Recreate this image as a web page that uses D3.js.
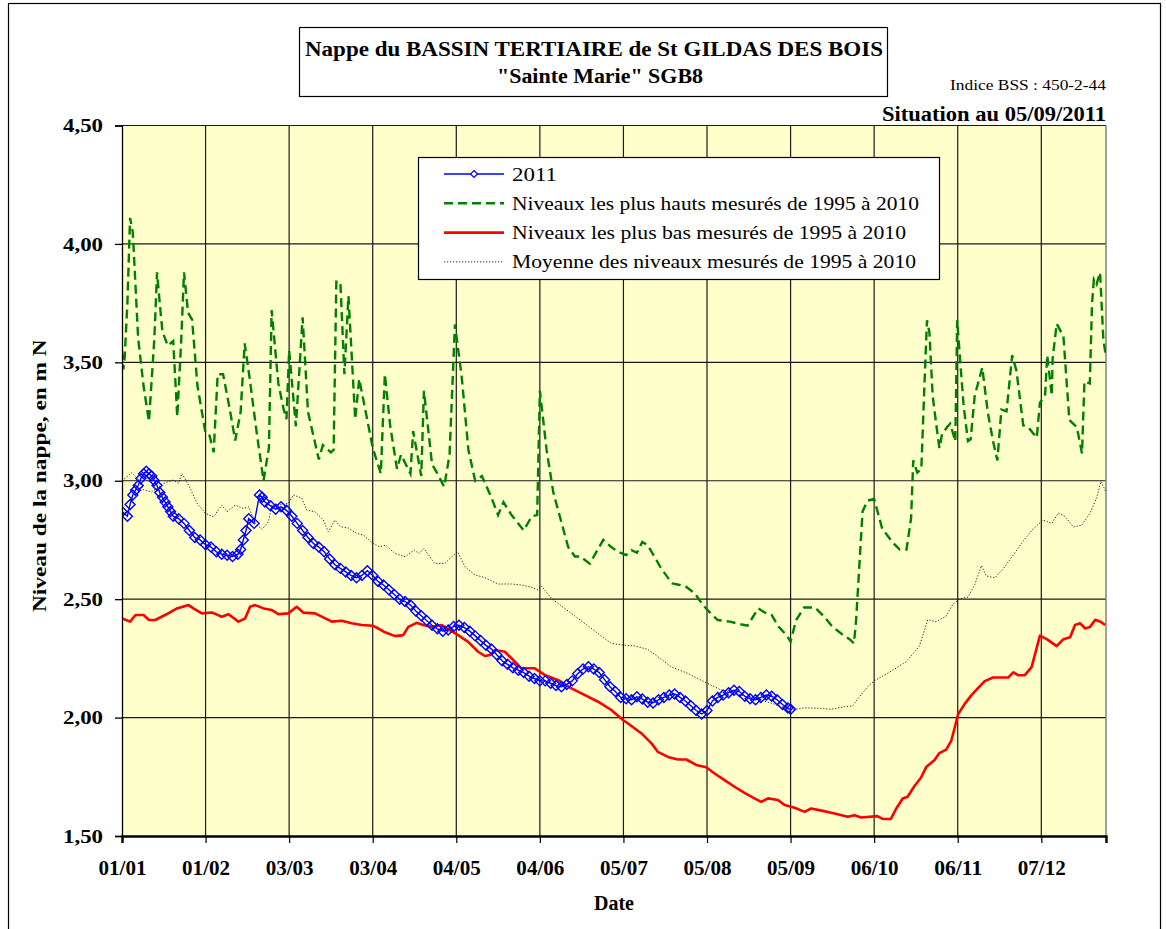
<!DOCTYPE html>
<html>
<head>
<meta charset="utf-8">
<script src="https://cdn.jsdelivr.net/npm/d3@7"></script>
<style>
  body { margin: 0; background: #fff; }
  svg text { font-family: "Liberation Serif", "Times New Roman", serif; fill: #000; }
</style>
</head>
<body>
<svg id="chart" width="1166" height="929"></svg>
<script>
// tick labels of the date axis (dd/mm), the axis runs over a 366 day calendar
const dateTicks = ['01/01', '01/02', '03/03', '03/04', '04/05', '04/06', '05/07', '05/08', '05/09', '06/10', '06/11', '07/12']
const levelTicks = [1.5, 2, 2.5, 3, 3.5, 4, 4.5]

const seriesNames = [
  '2011',
  'Niveaux les plus hauts mesurés de 1995 à 2010',
  'Niveaux les plus bas mesurés de 1995 à 2010',
  'Moyenne des niveaux mesurés de 1995 à 2010',
]

// [day of year, level in m]
const levels2011 = [
  [0, 2.87], [2, 2.85], [3, 2.90], [4, 2.94], [5, 2.96], [6, 2.98], [7, 3.01], [8, 3.03], [9, 3.04],
  [10, 3.03], [11, 3.02], [12, 3.00], [13, 2.98], [14, 2.95], [15, 2.93], [16, 2.91], [17, 2.89],
  [18, 2.87], [19, 2.85], [21, 2.84], [23, 2.82], [25, 2.79], [27, 2.76], [29, 2.75], [31, 2.73],
  [33, 2.72], [35, 2.70], [37, 2.69], [39, 2.685], [41, 2.68], [43, 2.69], [44, 2.71], [45, 2.75],
  [46, 2.79], [47, 2.84], [49, 2.82], [51, 2.94], [52, 2.93], [53, 2.91], [55, 2.895], [57, 2.88],
  [59, 2.89], [61, 2.875], [63, 2.85], [65, 2.82], [67, 2.79], [69, 2.76], [71, 2.735], [73, 2.72],
  [75, 2.70], [77, 2.67], [79, 2.645], [81, 2.63], [83, 2.615], [85, 2.60], [87, 2.59], [89, 2.60],
  [91, 2.62], [93, 2.60], [95, 2.575], [97, 2.56], [99, 2.54], [101, 2.52], [103, 2.50], [105, 2.49],
  [107, 2.475], [109, 2.45], [111, 2.43], [113, 2.41], [115, 2.39], [117, 2.375], [119, 2.365],
  [121, 2.37], [123, 2.385], [125, 2.39], [127, 2.38], [129, 2.365], [131, 2.345], [133, 2.325],
  [135, 2.305], [137, 2.29], [139, 2.265], [141, 2.24], [143, 2.225], [145, 2.21], [147, 2.20],
  [149, 2.19], [151, 2.175], [153, 2.165], [155, 2.155], [157, 2.155], [159, 2.145], [161, 2.135],
  [163, 2.13], [165, 2.14], [167, 2.155], [169, 2.185], [171, 2.205], [173, 2.215], [175, 2.205],
  [177, 2.19], [179, 2.16], [181, 2.13], [183, 2.11], [185, 2.085], [187, 2.08], [189, 2.075],
  [191, 2.088], [193, 2.078], [195, 2.065], [197, 2.062], [199, 2.075], [201, 2.085], [203, 2.095],
  [205, 2.10], [207, 2.085], [209, 2.07], [211, 2.05], [213, 2.03], [215, 2.015], [217, 2.03],
  [219, 2.07], [221, 2.085], [223, 2.095], [225, 2.105], [227, 2.115], [229, 2.11], [231, 2.09],
  [233, 2.08], [235, 2.075], [237, 2.085], [239, 2.095], [241, 2.09], [243, 2.075], [245, 2.055],
  [247, 2.04], [248, 2.035],
]

const highest = [
  [0, 3.55], [0.5, 3.47], [1, 3.52], [2, 3.75], [3, 4.11], [4, 4.05], [6, 3.6], [8, 3.4], [10, 3.25],
  [12, 3.6], [13, 3.88], [14, 3.75], [15, 3.63], [17, 3.57], [19, 3.59], [20.5, 3.27], [22, 3.6],
  [23, 3.88], [24.5, 3.71], [26, 3.68], [28, 3.4], [31, 3.2], [32.5, 3.19], [34, 3.12], [35.5, 3.45],
  [37.5, 3.45], [40, 3.3], [42, 3.17], [44, 3.29], [45.5, 3.58], [47.5, 3.42], [50, 3.2], [52.5, 3.0],
  [54.5, 3.14], [55.5, 3.72], [58, 3.41], [60, 3.3], [61, 3.26], [62, 3.55], [64.5, 3.23], [67, 3.69],
  [69, 3.29], [73, 3.09], [74.5, 3.15], [77.5, 3.12], [78.5, 3.13], [79.5, 3.84], [81, 3.84],
  [82.5, 3.45], [84, 3.78], [86.5, 3.26], [88, 3.43], [93, 3.14], [96, 3.03], [97.5, 3.45],
  [99.5, 3.23], [102, 3.05], [103.5, 3.11], [107, 3.03], [108, 3.21], [111, 3.02], [112, 3.38],
  [115, 3.07], [117, 3.03], [119.5, 2.975], [121.5, 3.11], [123.5, 3.66], [126, 3.44], [128.5, 3.13],
  [131, 3.0], [133.5, 3.02], [137, 2.93], [139.5, 2.855], [141.5, 2.91], [144.5, 2.855], [149, 2.79],
  [152, 2.85], [154, 2.855], [155, 3.38], [157.5, 3.13], [160, 2.95], [165.5, 2.72], [168, 2.68],
  [170, 2.68], [173.5, 2.65], [178.5, 2.75], [181.5, 2.72], [184, 2.70], [187, 2.686], [189, 2.707],
  [191, 2.696], [193, 2.742], [195, 2.728], [200, 2.63], [204, 2.567], [206, 2.562], [209, 2.555],
  [212.5, 2.524], [215.5, 2.475], [219, 2.433], [221, 2.412], [225.5, 2.405], [229.5, 2.394],
  [232, 2.388], [236, 2.461], [238.5, 2.443], [241, 2.433], [243.5, 2.384], [246.5, 2.348],
  [248, 2.32], [250, 2.41], [253, 2.465], [257, 2.465], [260.5, 2.426], [263.5, 2.384], [267, 2.353],
  [270, 2.33], [271.5, 2.313], [272.3, 2.41], [274.7, 2.87], [276.5, 2.916], [279, 2.923],
  [282, 2.797], [286, 2.738], [288.5, 2.709], [291, 2.709], [292.7, 2.842], [293.5, 3.086],
  [295, 3.034], [296.5, 3.049], [297.6, 3.389], [298.6, 3.678], [299.5, 3.626], [300.7, 3.359],
  [302, 3.241], [303.2, 3.138], [304.2, 3.197], [306, 3.226], [307.2, 3.241], [309.1, 3.167],
  [309.8, 3.678], [311.1, 3.478], [312.2, 3.315], [313.8, 3.167], [314.8, 3.175], [316.3, 3.359],
  [319.1, 3.478], [321.2, 3.285], [323.1, 3.167], [324.7, 3.086], [326.2, 3.30], [328.1, 3.293],
  [330.2, 3.53], [331.8, 3.463], [334.3, 3.234], [336.2, 3.226], [339.3, 3.182], [340.5, 3.33],
  [342.4, 3.359], [343.2, 3.53], [344.9, 3.359], [345.2, 3.515], [346.7, 3.663], [349.2, 3.611],
  [351.4, 3.256], [354.2, 3.226], [356.1, 3.115], [357, 3.419], [359, 3.411], [359.8, 3.744],
  [360.5, 3.85], [361.5, 3.83], [362.8, 3.88], [364, 3.6], [365, 3.52],
]

const lowest = [
  [0, 2.419], [3, 2.405], [5, 2.433], [8, 2.433], [10, 2.412], [12.3, 2.412], [16, 2.433], [20.4, 2.461],
  [24.7, 2.475], [26.5, 2.461], [29.6, 2.44], [33.3, 2.444], [37, 2.426], [39.5, 2.436], [43.2, 2.405],
  [45.7, 2.419], [47.5, 2.468], [49.4, 2.475], [52.5, 2.461], [55.6, 2.454], [58, 2.437], [61.7, 2.44],
  [64.8, 2.468], [67.3, 2.443], [71.6, 2.44], [74.1, 2.426], [77.8, 2.405], [81.5, 2.409], [85.2, 2.398],
  [89, 2.391], [93, 2.388], [95.1, 2.376], [97.6, 2.36], [101.3, 2.344], [104.3, 2.348], [106.2, 2.383],
  [109.3, 2.40], [111.7, 2.391], [114.9, 2.383], [118.6, 2.391], [121.6, 2.369], [124.7, 2.348],
  [128.4, 2.32], [132.1, 2.278], [134.6, 2.26], [136.5, 2.264], [138.3, 2.285], [142, 2.278],
  [145.1, 2.243], [148.2, 2.208], [153.1, 2.208], [156.8, 2.18], [161.8, 2.158], [166.7, 2.123],
  [171.7, 2.095], [176.6, 2.067], [181.5, 2.032], [185.8, 1.99], [187.7, 1.975], [192.7, 1.933],
  [196.4, 1.891], [198.8, 1.855], [202.5, 1.834], [206.2, 1.823], [209.3, 1.823], [213, 1.80],
  [216.7, 1.79], [219.8, 1.764], [223.5, 1.736], [227.2, 1.708], [230.9, 1.682], [234.6, 1.659],
  [237.1, 1.644], [239.6, 1.659], [243.3, 1.652], [245.8, 1.631], [249.5, 1.619], [253.2, 1.602],
  [255.6, 1.616], [259.9, 1.606], [264.3, 1.595], [269.2, 1.581], [271.7, 1.588], [274.2, 1.578],
  [280.2, 1.584], [282.1, 1.572], [285.2, 1.572], [287.1, 1.614], [289.6, 1.658], [291.4, 1.666],
  [293.9, 1.71], [296.4, 1.747], [298.3, 1.791], [301.4, 1.821], [303.2, 1.85], [305.7, 1.865],
  [307.6, 1.902], [308.8, 1.954], [310.1, 2.013], [312.6, 2.058], [315.1, 2.095], [317.5, 2.124],
  [320, 2.154], [323.1, 2.169], [328.7, 2.169], [330.6, 2.191], [332.4, 2.179], [334.9, 2.179],
  [337.4, 2.213], [338.6, 2.265], [340.5, 2.346], [343, 2.331], [346.7, 2.302], [349.2, 2.331],
  [351.7, 2.339], [353.5, 2.391], [355.4, 2.398], [357.3, 2.376], [359.1, 2.383], [361, 2.413],
  [362.9, 2.405], [364.7, 2.391],
]

const average = [
  [0, 3.0], [3.7, 3.034], [6.2, 3.003], [8, 2.961], [11, 2.953], [15.4, 2.989], [19, 3.003], [21, 2.989],
  [22.2, 3.031], [24.7, 2.982], [27.8, 2.905], [31, 2.862], [34, 2.848], [37, 2.897], [39, 2.869],
  [42, 2.897], [45, 2.883], [47, 2.89], [49.4, 2.82], [52, 2.795], [54.3, 2.827], [55.6, 2.897],
  [58, 2.897], [61.7, 2.905], [63.6, 2.94], [66.7, 2.926], [68.5, 2.876], [71.6, 2.869], [74.7, 2.834],
  [76.5, 2.785], [79, 2.834], [81, 2.806], [84, 2.80], [87, 2.778], [89.5, 2.771], [93, 2.736],
  [95.7, 2.721], [97.8, 2.728], [101.3, 2.693], [105, 2.679], [108.4, 2.707], [110.2, 2.693],
  [112, 2.714], [116, 2.651], [119.8, 2.651], [122.3, 2.679], [124.5, 2.70], [127.2, 2.637],
  [131, 2.602], [134.6, 2.591], [139.5, 2.564], [144.5, 2.564], [148, 2.56], [152, 2.55],
  [154.4, 2.538], [155.6, 2.555], [159.3, 2.503], [166.7, 2.44], [174, 2.377], [181.5, 2.313],
  [186, 2.306], [190, 2.303], [195, 2.288], [198.8, 2.257], [203.8, 2.214], [210, 2.186], [216, 2.151],
  [222.3, 2.116], [227, 2.102], [232, 2.088], [237, 2.074], [242, 2.057], [248, 2.032], [253, 2.041],
  [259.4, 2.039], [263, 2.035], [268, 2.046], [271, 2.049], [273.5, 2.088], [276.6, 2.13], [279, 2.155],
  [284.6, 2.191], [290.8, 2.235], [295.8, 2.302], [298.9, 2.413], [302, 2.405], [305.7, 2.428],
  [308.2, 2.479], [310.7, 2.501], [313.8, 2.509], [316.3, 2.561], [318.8, 2.642], [320.6, 2.598],
  [323.7, 2.59], [326.8, 2.627], [330.6, 2.686], [334.3, 2.746], [338, 2.797], [341.7, 2.834],
  [344.9, 2.82], [347.3, 2.864], [349.8, 2.849], [352.9, 2.805], [356, 2.812], [359.1, 2.864],
  [361.6, 2.93], [363.1, 2.997], [365, 2.953],
]

const plot = { left: 122, top: 125.5, right: 1106, bottom: 836 }

const svg = d3.select('#chart')

// day index of a dd/mm label, counted in a leap-year calendar like the source sheet
const parseDay = d3.timeParse('%d/%m/%Y')
const dayOf = (label) => d3.timeDay.count(new Date(2012, 0, 1), parseDay(label + '/2012'))
const tickDays = dateTicks.map(dayOf)

const x = d3.scaleLinear().domain([0, 365]).range([plot.left, plot.right])
const y = d3.scaleLinear().domain([1.5, 4.5]).range([plot.bottom, plot.top])

const fr = d3.formatLocale({ decimal: ',', thousands: ' ', grouping: [3], currency: ['', ' €'] })
const levelFormat = fr.format('.2f')

const fit = (sel, w) => sel.attr('textLength', w).attr('lengthAdjust', 'spacingAndGlyphs')

// outer frame
svg.append('rect')
  .attr('x', 8.5).attr('y', 3.5).attr('width', 1152).attr('height', 960)
  .attr('fill', 'none').attr('stroke', '#000').attr('stroke-width', 1.2)

// plot area
svg.append('rect')
  .attr('x', plot.left).attr('y', plot.top)
  .attr('width', plot.right - plot.left).attr('height', plot.bottom - plot.top)
  .attr('fill', '#ffffcc')

svg.append('defs').append('clipPath').attr('id', 'plotClip')
  .append('rect')
  .attr('x', plot.left).attr('y', plot.top - 2)
  .attr('width', plot.right - plot.left).attr('height', plot.bottom - plot.top + 2)

const grid = svg.append('g')
grid.selectAll('line.h')
  .data(levelTicks.slice(1))
  .join('line')
  .attr('class', 'h')
  .attr('x1', plot.left).attr('x2', plot.right)
  .attr('y1', (d) => y(d)).attr('y2', (d) => y(d))
  .attr('stroke', '#1a1a1a').attr('stroke-width', 1.2)
grid.selectAll('line.v')
  .data(tickDays.slice(1))
  .join('line')
  .attr('class', 'v')
  .attr('x1', (d) => x(d)).attr('x2', (d) => x(d))
  .attr('y1', plot.top).attr('y2', plot.bottom)
  .attr('stroke', '#1a1a1a').attr('stroke-width', 1.2)
grid.append('line')
  .attr('x1', plot.right).attr('x2', plot.right)
  .attr('y1', plot.top).attr('y2', plot.bottom)
  .attr('stroke', '#808080').attr('stroke-width', 1.5)

// series
const line = d3.line().x((d) => x(d[0])).y((d) => y(d[1]))
const marks = svg.append('g').attr('clip-path', 'url(#plotClip)')

marks.append('path').datum(average)
  .attr('d', line).attr('fill', 'none')
  .attr('stroke', '#222').attr('stroke-width', 1).attr('stroke-dasharray', '1.2,1.8')

marks.append('path').datum(highest)
  .attr('d', line).attr('fill', 'none')
  .attr('stroke', '#008000').attr('stroke-width', 2.4).attr('stroke-dasharray', '9,5')

marks.append('path').datum(lowest)
  .attr('d', line).attr('fill', 'none')
  .attr('stroke', '#ff0000').attr('stroke-width', 2.6).attr('stroke-linejoin', 'round')

marks.append('path').datum(levels2011)
  .attr('d', line).attr('fill', 'none')
  .attr('stroke', '#0000ff').attr('stroke-width', 1.4)

const diamond = 'M0,-5L5,0L0,5L-5,0Z'
marks.append('g').selectAll('path')
  .data(levels2011)
  .join('path')
  .attr('d', diamond)
  .attr('transform', (d) => `translate(${x(d[0])},${y(d[1])})`)
  .attr('fill', 'none').attr('stroke', '#0000ff').attr('stroke-width', 1.4)

// axes
const yAxis = svg.append('g')
  .attr('transform', `translate(${plot.left},0)`)
  .call(d3.axisLeft(y).tickValues(levelTicks).tickFormat(levelFormat).tickSize(7).tickPadding(12))
yAxis.selectAll('text')
  .attr('font-family', null).attr('font-size', 19).attr('font-weight', 'bold')
  .call(fit, 40)
yAxis.selectAll('line, path').attr('stroke', '#000').attr('stroke-width', 1.3)

const xAxis = svg.append('g')
  .attr('transform', `translate(0,${plot.bottom})`)
  .call(d3.axisBottom(x).tickValues(tickDays).tickFormat((d, i) => dateTicks[i]).tickSize(7).tickPadding(18))
xAxis.selectAll('text')
  .attr('font-family', null).attr('font-size', 20).attr('font-weight', 'bold')
  .call(fit, 48)
xAxis.select('path.domain').attr('stroke', '#000').attr('stroke-width', 2.4)
xAxis.selectAll('line').attr('stroke', '#000').attr('stroke-width', 1.2)

// axis titles
svg.append('text')
  .attr('x', 614).attr('y', 910)
  .attr('text-anchor', 'middle').attr('font-size', 20).attr('font-weight', 'bold')
  .text('Date')
  .call(fit, 40)

svg.append('defs').append('clipPath').attr('id', 'yTitleClip')
  .append('rect').attr('x', 0).attr('y', 341).attr('width', 100).attr('height', 600)
svg.append('g').attr('clip-path', 'url(#yTitleClip)')
  .append('text')
  .attr('transform', 'translate(46,612) rotate(-90)')
  .attr('font-size', 19).attr('font-weight', 'bold')
  .text('Niveau de la nappe, en m NGF')
  .call(fit, 305)

// title block
svg.append('rect')
  .attr('x', 299.5).attr('y', 27.5).attr('width', 588).attr('height', 69)
  .attr('fill', '#fff').attr('stroke', '#000').attr('stroke-width', 1.2)
svg.append('text')
  .attr('x', 594).attr('y', 56).attr('text-anchor', 'middle')
  .attr('font-size', 20).attr('font-weight', 'bold')
  .text('Nappe du BASSIN TERTIAIRE de St GILDAS DES BOIS')
  .call(fit, 578)
svg.append('text')
  .attr('x', 600).attr('y', 83).attr('text-anchor', 'middle')
  .attr('font-size', 20).attr('font-weight', 'bold')
  .text('"Sainte Marie" SGB8')
  .call(fit, 206)
svg.append('text')
  .attr('x', 1106).attr('y', 90).attr('text-anchor', 'end')
  .attr('font-size', 15)
  .text('Indice BSS : 450-2-44')
  .call(fit, 156)
svg.append('text')
  .attr('x', 1106).attr('y', 121).attr('text-anchor', 'end')
  .attr('font-size', 20).attr('font-weight', 'bold')
  .text('Situation au 05/09/2011')
  .call(fit, 224)

// legend
const legend = svg.append('g').attr('transform', 'translate(418,157)')
legend.append('rect')
  .attr('x', 0.5).attr('y', 0.5).attr('width', 521).attr('height', 122)
  .attr('fill', '#fff').attr('stroke', '#000').attr('stroke-width', 1.2)
const legendStyles = [
  { stroke: '#0000ff', width: 1.4, dash: null, marker: true },
  { stroke: '#008000', width: 2.4, dash: '9,5', marker: false },
  { stroke: '#ff0000', width: 2.6, dash: null, marker: false },
  { stroke: '#222', width: 1, dash: '1.2,1.8', marker: false },
]
const legendWidths = [45, 407, 394, 404]
const rows = legend.selectAll('g.row')
  .data(seriesNames)
  .join('g')
  .attr('class', 'row')
  .attr('transform', (d, i) => `translate(0,${17 + i * 29.3})`)
rows.append('line')
  .attr('x1', 26).attr('x2', 86)
  .attr('stroke', (d, i) => legendStyles[i].stroke)
  .attr('stroke-width', (d, i) => legendStyles[i].width)
  .attr('stroke-dasharray', (d, i) => legendStyles[i].dash)
rows.filter((d, i) => legendStyles[i].marker)
  .append('path')
  .attr('d', 'M0,-3.5L3.5,0L0,3.5L-3.5,0Z')
  .attr('transform', 'translate(56,0)')
  .attr('fill', '#fff').attr('stroke', '#0000ff').attr('stroke-width', 1.2)
rows.append('text')
  .attr('x', 94).attr('y', 6.5)
  .attr('font-size', 19)
  .text((d) => d)
  .each(function (d, i) { d3.select(this).call(fit, legendWidths[i]) })
</script>
</body>
</html>
